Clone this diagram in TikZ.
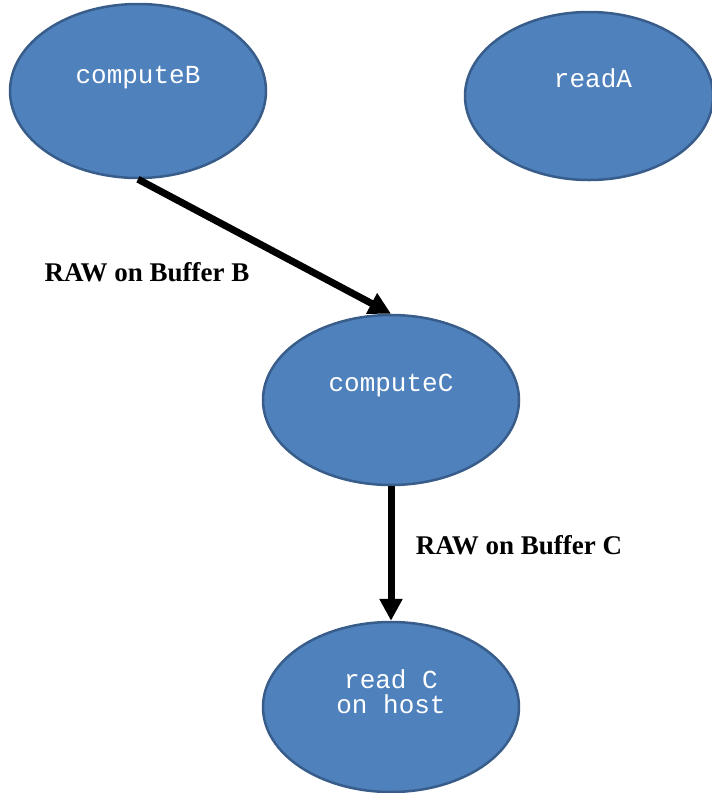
\documentclass[tikz,border=0pt]{standalone}
\usepackage{fontspec}
\setmainfont{Liberation Serif}
\newfontfamily\monofam{Liberation Mono}
\usetikzlibrary{shapes.geometric,arrows.meta}
\definecolor{nodefill}{HTML}{4F81BD}
\definecolor{nodeline}{HTML}{385D8A}
\tikzset{
  task/.style={ellipse, fill=nodefill, draw=nodeline, line width=2.5pt, inner sep=0pt},
  tasktext/.style={text=white, font=\monofam\fontsize{26}{25}\selectfont, align=center, inner sep=0pt},
  dep/.style={line width=7pt, -{Triangle[length=22pt,width=22pt]}},
  deplabel/.style={font=\bfseries\fontsize{27}{30}\selectfont, inner sep=0pt}
}
\begin{document}
\begin{tikzpicture}[x=1pt,y=-1pt]
\useasboundingbox (0,0) rectangle (712,793);
\node[task, minimum width=256pt, minimum height=174pt] (B) at (138,91) {};
\node[task, minimum width=248pt, minimum height=168pt] (A) at (589,96) {};
\node[task, minimum width=256pt, minimum height=170pt] (C) at (391,400) {};
\node[task, minimum width=256pt, minimum height=170pt] (H) at (391,707) {};
\node[tasktext] (tB) at (138,78) {computeB};
\node[tasktext] (tA) at (593,78) {readA};
\node[tasktext] (tC) at (391,385) {computeC};
\node[tasktext] (tH) at (391,692) {read C\\on host};
\draw[dep] (B.south) -- (C.north);
\draw[dep] (C.south) -- (H.north);
\node[deplabel] (lB) at (147,272) {RAW on Buffer B};
\node[deplabel] (lC) at (519,545) {RAW on Buffer C};
\end{tikzpicture}
\end{document}
